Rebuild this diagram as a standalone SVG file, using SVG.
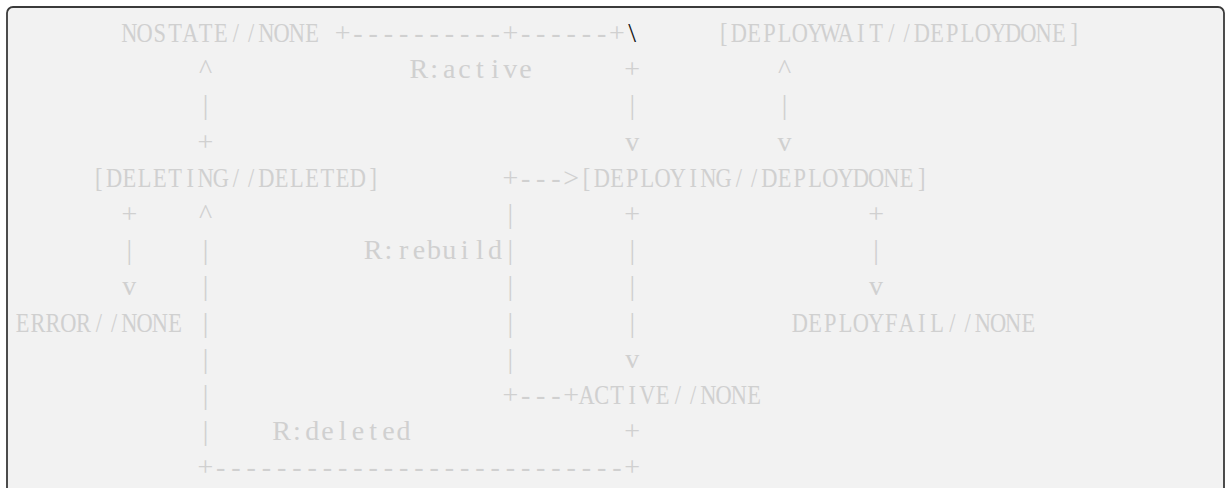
<svg xmlns="http://www.w3.org/2000/svg" width="1225" height="488" viewBox="0 0 1225 488">
  <style>
    .t { font-family: "Liberation Serif", "DejaVu Serif", serif; font-size: 28px; fill: #d0d0d0; }
    .c { text-anchor: middle; }
    .bs { fill: #111111; }
  </style>
  <rect x="0" y="0" width="1225" height="488" fill="#ffffff"/>
  <!-- panel -->
  <rect x="7" y="7" width="1217" height="530" rx="6" ry="6" fill="#f2f2f2" stroke="#3a3a3a" stroke-width="1.8"/>

  <!-- states: one glyph per grid cell, condensed to 0.8 width
       (cell centre in group units = 28.275 + 19.05 * column) -->
  <g id="states" transform="scale(0.8,1)">
    <g id="n-nostate"><text class="t c" y="42" x="161.625 180.675 199.725 218.775 237.825 256.875 275.925 294.975 314.025 333.075 352.125 371.175 390.225">NOSTATE//NONE</text></g>
    <g id="n-deploywait"><text class="t c" y="42" x="904.575 923.625 942.675 961.725 980.775 999.825 1018.875 1037.925 1056.975 1076.025 1095.075 1114.125 1133.175 1152.225 1171.275 1190.325 1209.375 1228.425 1247.475 1266.525 1285.575 1304.625 1323.675 1342.725">[DEPLOYWAIT//DEPLOYDONE]</text></g>
    <g id="n-deleting"><text class="t c" y="186.8" x="123.525 142.575 161.625 180.675 199.725 218.775 237.825 256.875 275.925 294.975 314.025 333.075 352.125 371.175 390.225 409.275 428.325 447.375 466.425">[DELETING//DELETED]</text></g>
    <g id="n-deploying"><text class="t c" y="186.8" x="733.125 752.175 771.225 790.275 809.325 828.375 847.425 866.475 885.525 904.575 923.625 942.675 961.725 980.775 999.825 1018.875 1037.925 1056.975 1076.025 1095.075 1114.125 1133.175 1152.225">[DEPLOYING//DEPLOYDONE]</text></g>
    <g id="n-error"><text class="t c" y="331.6" x="28.275 47.325 66.375 85.425 104.475 123.525 142.575 161.625 180.675 199.725 218.775">ERROR//NONE</text></g>
    <g id="n-deployfail"><text class="t c" y="331.6" x="999.825 1018.875 1037.925 1056.975 1076.025 1095.075 1114.125 1133.175 1152.225 1171.275 1190.325 1209.375 1228.425 1247.475 1266.525 1285.575">DEPLOYFAIL//NONE</text></g>
    <g id="n-active"><text class="t c" y="404" x="733.125 752.175 771.225 790.275 809.325 828.375 847.425 866.475 885.525 904.575 923.625 942.675">ACTIVE//NONE</text></g>
  </g>

  <!-- ascii connectors (cell centre = 22.62 + 15.24 * column) -->
  <g id="connectors">
    <!-- row 1 -->
    <text class="t c" x="342.66 357.90 373.14 388.38 403.62 418.86 434.10 449.34 464.58 479.82 495.06 510.30 525.54 540.78 556.02 571.26 586.50 601.74 616.98" y="42">+----------+------+</text>
    <text class="t c bs" x="632.22" y="42">\</text>
    <!-- row 2 -->
    <text class="t c" x="205.50" y="78.2">^</text>
    <text class="t c" x="632.22" y="78.2">+</text>
    <text class="t c" x="784.62" y="78.2">^</text>
    <!-- row 3 -->
    <text class="t c" x="205.50" y="114.4">|</text>
    <text class="t c" x="632.22" y="114.4">|</text>
    <text class="t c" x="784.62" y="114.4">|</text>
    <!-- row 4 -->
    <text class="t c" x="205.50" y="150.6">+</text>
    <text class="t c" x="632.22" y="150.6">v</text>
    <text class="t c" x="784.62" y="150.6">v</text>
    <!-- row 5 -->
    <text class="t c" x="510.30 525.54 540.78 556.02 571.26" y="186.8">+---&gt;</text>
    <!-- row 6 -->
    <text class="t c" x="129.30" y="223">+</text>
    <text class="t c" x="205.50" y="223">^</text>
    <text class="t c" x="510.30" y="223">|</text>
    <text class="t c" x="632.22" y="223">+</text>
    <text class="t c" x="876.06" y="223">+</text>
    <!-- row 7 -->
    <text class="t c" x="129.30" y="259.2">|</text>
    <text class="t c" x="205.50" y="259.2">|</text>
    <text class="t c" x="510.30" y="259.2">|</text>
    <text class="t c" x="632.22" y="259.2">|</text>
    <text class="t c" x="876.06" y="259.2">|</text>
    <!-- row 8 -->
    <text class="t c" x="129.30" y="295.4">v</text>
    <text class="t c" x="205.50" y="295.4">|</text>
    <text class="t c" x="510.30" y="295.4">|</text>
    <text class="t c" x="632.22" y="295.4">|</text>
    <text class="t c" x="876.06" y="295.4">v</text>
    <!-- row 9 -->
    <text class="t c" x="205.50" y="331.6">|</text>
    <text class="t c" x="510.30" y="331.6">|</text>
    <text class="t c" x="632.22" y="331.6">|</text>
    <!-- row 10 -->
    <text class="t c" x="205.50" y="367.8">|</text>
    <text class="t c" x="510.30" y="367.8">|</text>
    <text class="t c" x="632.22" y="367.8">v</text>
    <!-- row 11 -->
    <text class="t c" x="205.50" y="404">|</text>
    <text class="t c" x="510.30 525.54 540.78 556.02 571.26" y="404">+---+</text>
    <!-- row 12 -->
    <text class="t c" x="205.50" y="440.2">|</text>
    <text class="t c" x="632.22" y="440.2">+</text>
    <!-- row 13 -->
    <text class="t c" x="205.50 220.74 235.98 251.22 266.46 281.70 296.94 312.18 327.42 342.66 357.90 373.14 388.38 403.62 418.86 434.10 449.34 464.58 479.82 495.06 510.30 525.54 540.78 556.02 571.26 586.50 601.74 616.98 632.22" y="476.4">+---------------------------+</text>

    <!-- transition labels, one glyph per grid cell -->
    <text class="t c" x="418.86 434.10 449.34 464.58 479.82 495.06 510.30 525.54" y="78.2">R:active</text>
    <text class="t c" x="373.14 388.38 403.62 418.86 434.10 449.34 464.58 479.82 495.06" y="259.2">R:rebuild</text>
    <text class="t c" x="281.70 296.94 312.18 327.42 342.66 357.90 373.14 388.38 403.62" y="440.2">R:deleted</text>
  </g>
</svg>
